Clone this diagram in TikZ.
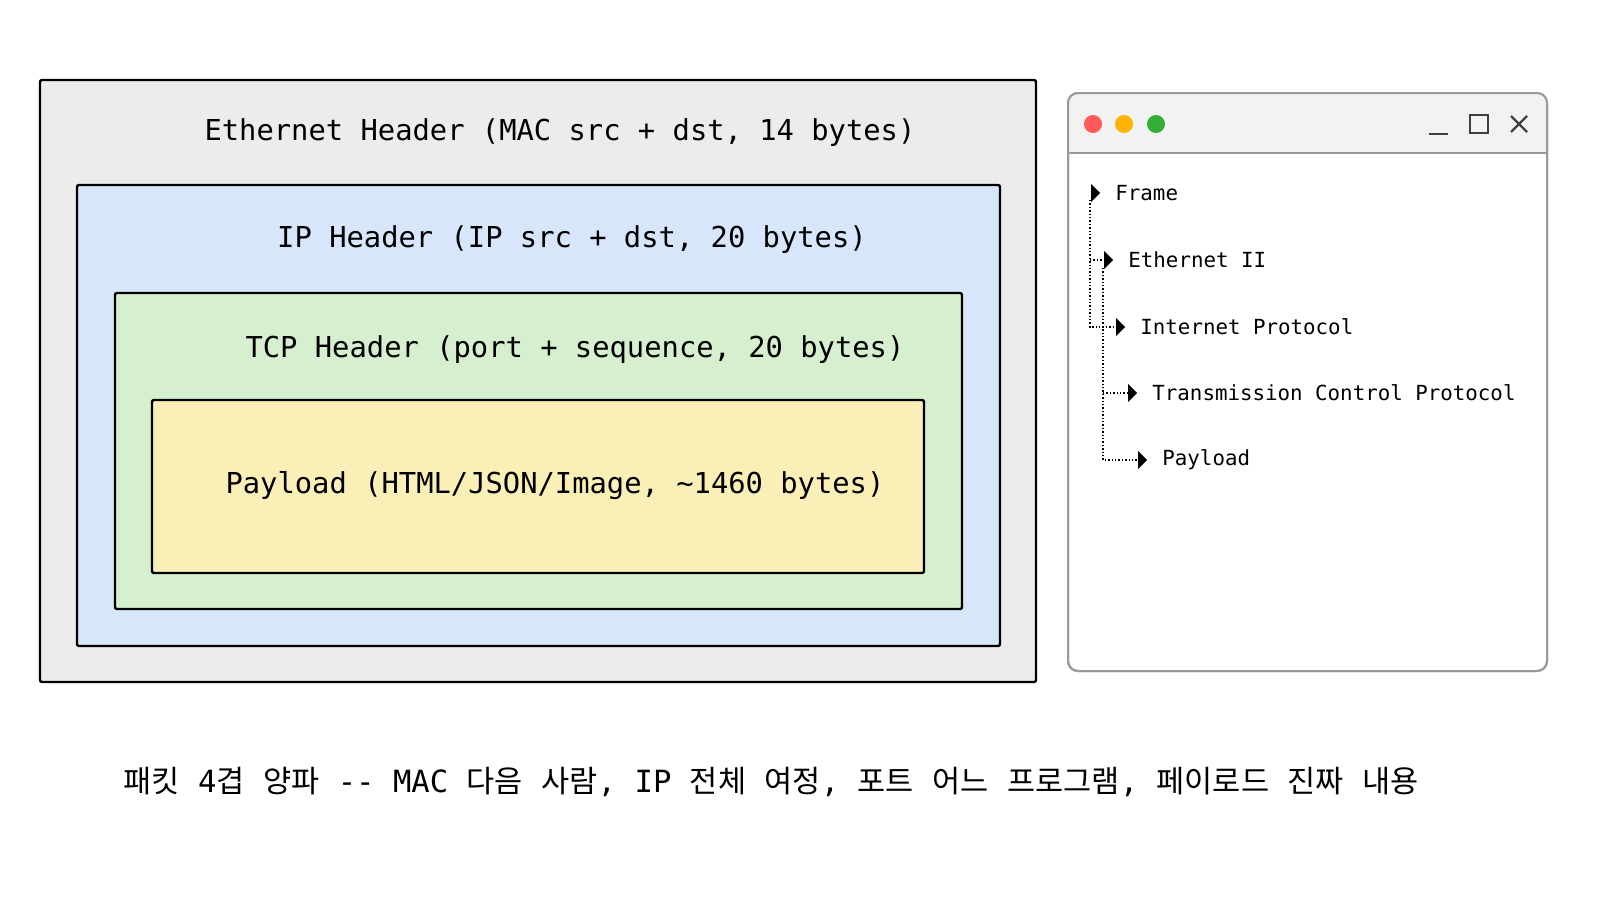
\documentclass[tikz,border=0pt]{standalone}
\usepackage{fontspec}
\setmonofont{DejaVu Sans Mono}
\newfontfamily\cjk{Noto Sans CJK KR}
\usetikzlibrary{positioning, arrows.meta}
\definecolor{ethgray}{HTML}{ECECEC}
\definecolor{ipblue}{HTML}{D8E6FB}
\definecolor{tcpgreen}{HTML}{D6EFCF}
\definecolor{loadyellow}{HTML}{FBEFB8}
\definecolor{wingray}{HTML}{9A9A9A}
\newcommand{\mono}[1]{{\ttfamily #1}}
\tikzset{
  layer/.style={draw=black, line width=1.2pt, rounded corners=1pt},
  layertext/.style={font=\ttfamily\fontsize{14.4}{16}\selectfont, inner sep=0pt},
  treetext/.style={font=\ttfamily\fontsize{10.4}{12}\selectfont, anchor=west, inner sep=0pt},
  treelink/.style={densely dotted, line width=0.7pt},
}
\begin{document}
\begin{tikzpicture}[x=0.5pt, y=-0.5pt]
  \useasboundingbox (0,0) rectangle (1600,900);
  \fill[white] (0,0) rectangle (1600,900);

  % Nested layers
  \draw[layer, fill=ethgray] (40,80) rectangle (1036,682);
  \draw[layer, fill=ipblue] (77,185) rectangle (1000,646);
  \draw[layer, fill=tcpgreen] (115,293) rectangle (962,609);
  \draw[layer, fill=loadyellow] (152,400) rectangle (924,573);
  \node[layertext] (eth) at (560,133) {Ethernet Header (MAC src + dst, 14 bytes)};
  \node[layertext] (ip) at (572,240) {IP Header (IP src + dst, 20 bytes)};
  \node[layertext] (tcp) at (575,350) {TCP Header (port + sequence, 20 bytes)};
  \node[layertext] (load) at (555,486) {Payload (HTML/JSON/Image, \textasciitilde1460 bytes)};

  % Window
  \draw[wingray, line width=1pt, fill=white, rounded corners=5pt] (1068,93) rectangle (1547,671);
  \begin{scope}
    \clip[rounded corners=5pt] (1068,93) rectangle (1547,671);
    \fill[ethgray!70] (1068,93) rectangle (1547,153);
  \end{scope}
  \draw[wingray, line width=1pt] (1068,153) -- (1547,153);
  \draw[wingray, line width=1pt, rounded corners=5pt] (1068,93) rectangle (1547,671);
  \fill[red!65] (1093,124) circle (9);
  \fill[orange!60!yellow] (1124,124) circle (9);
  \fill[green!60!black!80] (1156,124) circle (9);
  \draw[black!75, line width=1.2pt] (1429,134) -- (1448,134);
  \draw[black!75, line width=1.2pt] (1470,115) rectangle (1488,133);
  \draw[black!75, line width=1.2pt] (1511,116) -- (1527,132) (1511,132) -- (1527,116);

  % Tree
  \foreach \name/\tx/\ty/\label in {frame/1095/193/Frame, ethii/1108/260/Ethernet II, inet/1120/327/Internet Protocol, tcpp/1132/393/Transmission Control Protocol, pay/1142/460/Payload}{
    \fill (\tx-4,\ty-9) -- (\tx+5,\ty) -- (\tx-4,\ty+9) -- cycle;
    \coordinate (\name) at (\tx-5,\ty);
    \node[treetext] (\name-t) at (\tx+20,\ty) {\label};
  }
  \coordinate (trunkA) at (1090,200);
  \coordinate (trunkB) at (1103,268);
  \draw[treelink] (trunkA) |- (inet);
  \draw[treelink] (1090,260) -- (ethii);
  \draw[treelink] (trunkB) |- (pay);
  \draw[treelink] (1103,393) -- (tcpp);

  % Caption
  \node[font=\cjk\fontsize{15.3}{18}\selectfont, inner sep=0pt] (caption) at (771,782) {패킷\mono{ 4}겹\mono{ }양파\mono{ -- MAC }다음\mono{ }사람\mono{, IP }전체\mono{ }여정\mono{, }포트\mono{ }어느\mono{ }프로그램\mono{, }페이로드\mono{ }진짜\mono{ }내용};
\end{tikzpicture}
\end{document}
